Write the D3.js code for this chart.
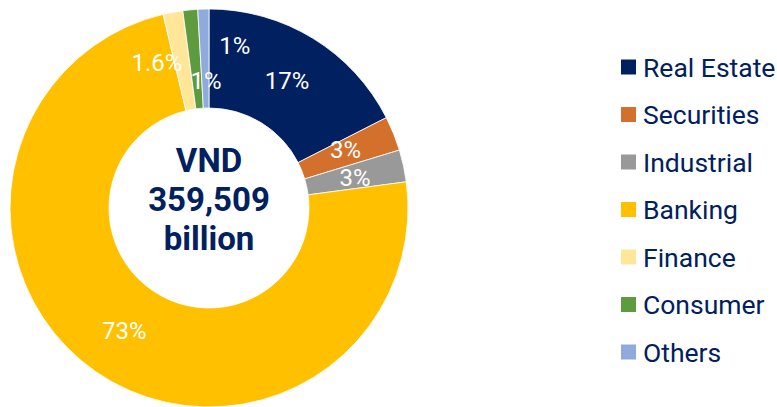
<!DOCTYPE html>
<html>
<head>
<meta charset="utf-8">
<script src="https://cdn.jsdelivr.net/npm/d3@7"></script>
<style>
  body { margin: 0; background: #fff; }
  svg { display: block; font-family: Roboto, "Noto Sans", sans-serif; }
</style>
</head>
<body>
<div id="chart"></div>
<script>
// data (share of total, %)
var categories = ["Real Estate", "Securities", "Industrial", "Banking", "Finance", "Consumer", "Others"];
var shares = [17.5, 2.8, 2.6, 73.4, 1.6, 1.2, 0.9];
var labels = ["17%", "3%", "3%", "73%", "1.6%", "1%", "1%"];
var colors = ["#002060", "#D2702C", "#999999", "#FFC000", "#FFE699", "#5E9A3E", "#8FAADC"];
var centerLines = ["VND", "359,509", "billion"];

function init() {
    var w = 777;
    var h = 407;
    var cx = 209, cy = 208;
    var outerR = 199, innerR = 100;

    var svg = d3.select("#chart")
                .append("svg")
                .attr("width", w)
                .attr("height", h);

    var pie = d3.pie().sort(null).value(function(d){ return d; });
    var arc = d3.arc().innerRadius(innerR).outerRadius(outerR);

    var g = svg.append("g").attr("transform", "translate(" + cx + "," + cy + ")");
    var arcs = pie(shares);

    g.selectAll("path")
        .data(arcs)
        .enter()
        .append("path")
        .attr("d", arc)
        .attr("fill", function(d, i){ return colors[i]; })
        .attr("stroke", "#fff")
        .attr("stroke-width", 0.8);

    // small slices get their labels nudged out of the way, like the original
    var nudge = [[0,0],[-2,-2],[0,2],[0,0],[-25,2],[11,22],[30,-13]];

    g.selectAll("text.lbl")
        .data(arcs)
        .enter()
        .append("text")
        .attr("class", "lbl")
        .attr("x", function(d, i){ return arc.centroid(d)[0] + nudge[i][0]; })
        .attr("y", function(d, i){ return arc.centroid(d)[1] + nudge[i][1]; })
        .attr("text-anchor", "middle")
        .attr("dominant-baseline", "central")
        .attr("fill", "#fff")
        .attr("font-size", 24)
        .text(function(d, i){ return labels[i]; });

    // centre total
    g.selectAll("text.ctr")
        .data(centerLines)
        .enter()
        .append("text")
        .attr("class", "ctr")
        .attr("x", 0)
        .attr("y", function(d, i){ return (i - 1) * 39 - 9; })
        .attr("text-anchor", "middle")
        .attr("dominant-baseline", "central")
        .attr("fill", "#002060")
        .attr("font-weight", "bold")
        .attr("font-size", 33)
        .text(function(d){ return d; });

    // legend
    var legend = svg.append("g").attr("transform", "translate(621,67)");
    var item = legend.selectAll("g")
        .data(categories)
        .enter()
        .append("g")
        .attr("transform", function(d, i){ return "translate(0," + (i * 47.5) + ")"; });

    item.append("rect")
        .attr("x", 0).attr("y", -7.5)
        .attr("width", 15).attr("height", 15)
        .attr("fill", function(d, i){ return colors[i]; });

    item.append("text")
        .attr("x", 22)
        .attr("y", 0)
        .attr("dominant-baseline", "central")
        .attr("fill", "#002060")
        .attr("font-size", 26.5)
        .text(function(d){ return d; });
}

window.onload = init;
</script>
</body>
</html>
